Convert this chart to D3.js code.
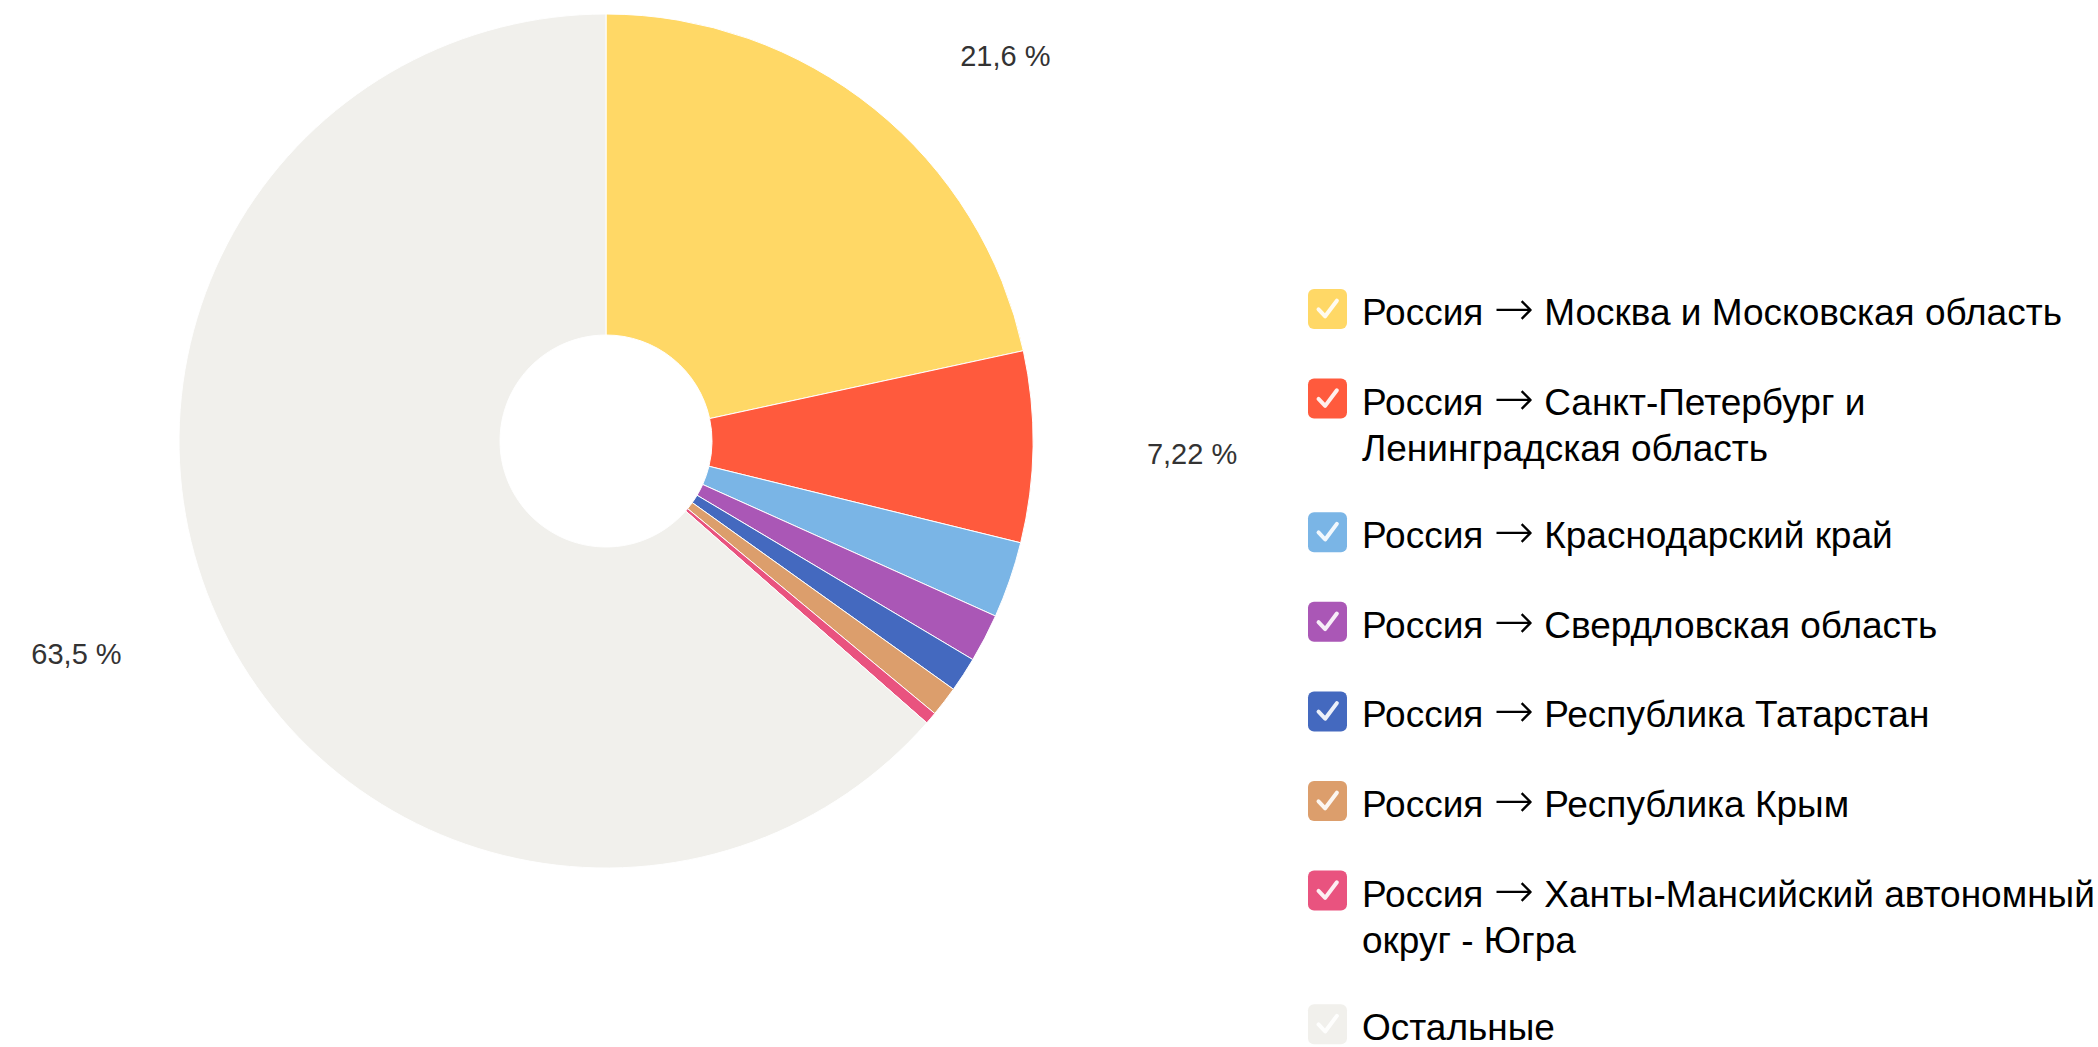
<!DOCTYPE html>
<html>
<head>
<meta charset="utf-8">
<script src="https://cdn.jsdelivr.net/npm/d3@7/dist/d3.min.js"></script>
<style>
html,body{margin:0;padding:0;background:#fff;}
svg{display:block;}
</style>
</head>
<body>
<svg id="chart" width="2098" height="1047"></svg>
<script>
const categories = [
  "Россия → Москва и Московская область",
  "Россия → Санкт-Петербург и Ленинградская область",
  "Россия → Краснодарский край",
  "Россия → Свердловская область",
  "Россия → Республика Татарстан",
  "Россия → Республика Крым",
  "Россия → Ханты-Мансийский автономный округ - Югра",
  "Остальные"
];
const values = [21.6, 7.22, 2.89, 1.83, 1.32, 1.14, 0.46, 63.5];
const valueLabels = ["21,6 %", "7,22 %", "", "", "", "", "", "63,5 %"];
const colors = ["#ffd866", "#ff5a3d", "#7ab5e6", "#aa57b6", "#4469bf", "#dc9e6c", "#e9537f", "#f1f0ec"];

const svg = d3.select("#chart");
const cx = 606, cy = 441, R = 427, r0 = 106;

const pie = d3.pie().sort(null).value(d => d.v);
const data = categories.map((c, i) => ({c, v: values[i], lab: valueLabels[i], col: colors[i]}));
const arcs = pie(data);
const arc = d3.arc().innerRadius(r0).outerRadius(R);

const g = svg.append("g").attr("transform", `translate(${cx},${cy})`);
g.selectAll("path.slice").data(arcs).join("path")
  .attr("class", "slice")
  .attr("d", arc)
  .attr("fill", d => d.data.col)
  .attr("stroke", "#fff")
  .attr("stroke-width", 1)
  .attr("stroke-linejoin", "round");

// value labels
const Rl = 502;
g.selectAll("text.val").data(arcs.filter(d => d.data.lab)).join("text")
  .attr("class", "val")
  .each(function(d) {
    const a = (d.startAngle + d.endAngle) / 2;
    const sx = Math.sin(a), sy = -Math.cos(a);
    const right = sx >= 0;
    d3.select(this)
      .attr("x", Rl * sx + (right ? 39 : -27))
      .attr("y", Rl * sy + 6)
      .attr("dy", "0.35em")
      .attr("text-anchor", right ? "start" : "end");
  })
  .attr("font-family", "'Liberation Sans', Arial, sans-serif")
  .attr("font-size", 29)
  .attr("fill", "#333")
  .text(d => d.data.lab);

// legend
const legX = 1308, boxSize = 39, textX = 1362, maxW = 740, lineH = 46.5, fs = 37;
const baseY = 36; // baseline offset from box top
let y = 289;
const leg = svg.append("g");

function fillLine(tsp, words) {
  tsp.selectAll("*").remove();
  tsp.text(null);
  words.forEach((w, k) => {
    const s = (k > 0 ? " " : "");
    if (w === "→") {
      if (s) tsp.append("tspan").text(s);
      tsp.append("tspan").attr("font-family", "'DejaVu Sans', sans-serif")
        .attr("font-size", fs * 1.3).attr("font-weight", 300).text(w);
    } else {
      tsp.append("tspan").text(s + w);
    }
  });
}

data.forEach((d, i) => {
  const item = leg.append("g").attr("transform", `translate(${legX},${y})`);
  item.append("rect").attr("width", boxSize).attr("height", boxSize + 1)
    .attr("rx", 6).attr("ry", 6).attr("fill", d.col);
  item.append("path")
    .attr("d", `M${boxSize*0.27},${boxSize*0.52} L${boxSize*0.44},${boxSize*0.7} L${boxSize*0.74},${boxSize*0.3}`)
    .attr("fill", "none").attr("stroke", "#fff").attr("stroke-opacity", 0.9)
    .attr("stroke-width", 4).attr("stroke-linecap", "round").attr("stroke-linejoin", "round");
  const t = item.append("text")
    .attr("font-family", "'Liberation Sans', Arial, sans-serif")
    .attr("font-size", fs).attr("fill", "#000");
  const words = d.c.split(" ");
  let line = [], lines = 0;
  let tspan = t.append("tspan").attr("x", textX - legX).attr("y", baseY);
  words.forEach(w => {
    line.push(w);
    fillLine(tspan, line);
    if (tspan.node().getComputedTextLength() > maxW && line.length > 1) {
      line.pop();
      fillLine(tspan, line);
      line = [w];
      lines++;
      tspan = t.append("tspan").attr("x", textX - legX).attr("y", baseY + lines * lineH);
      fillLine(tspan, line);
    }
  });
  y += 89.6 + lines * 44;
});
</script>
</body>
</html>
